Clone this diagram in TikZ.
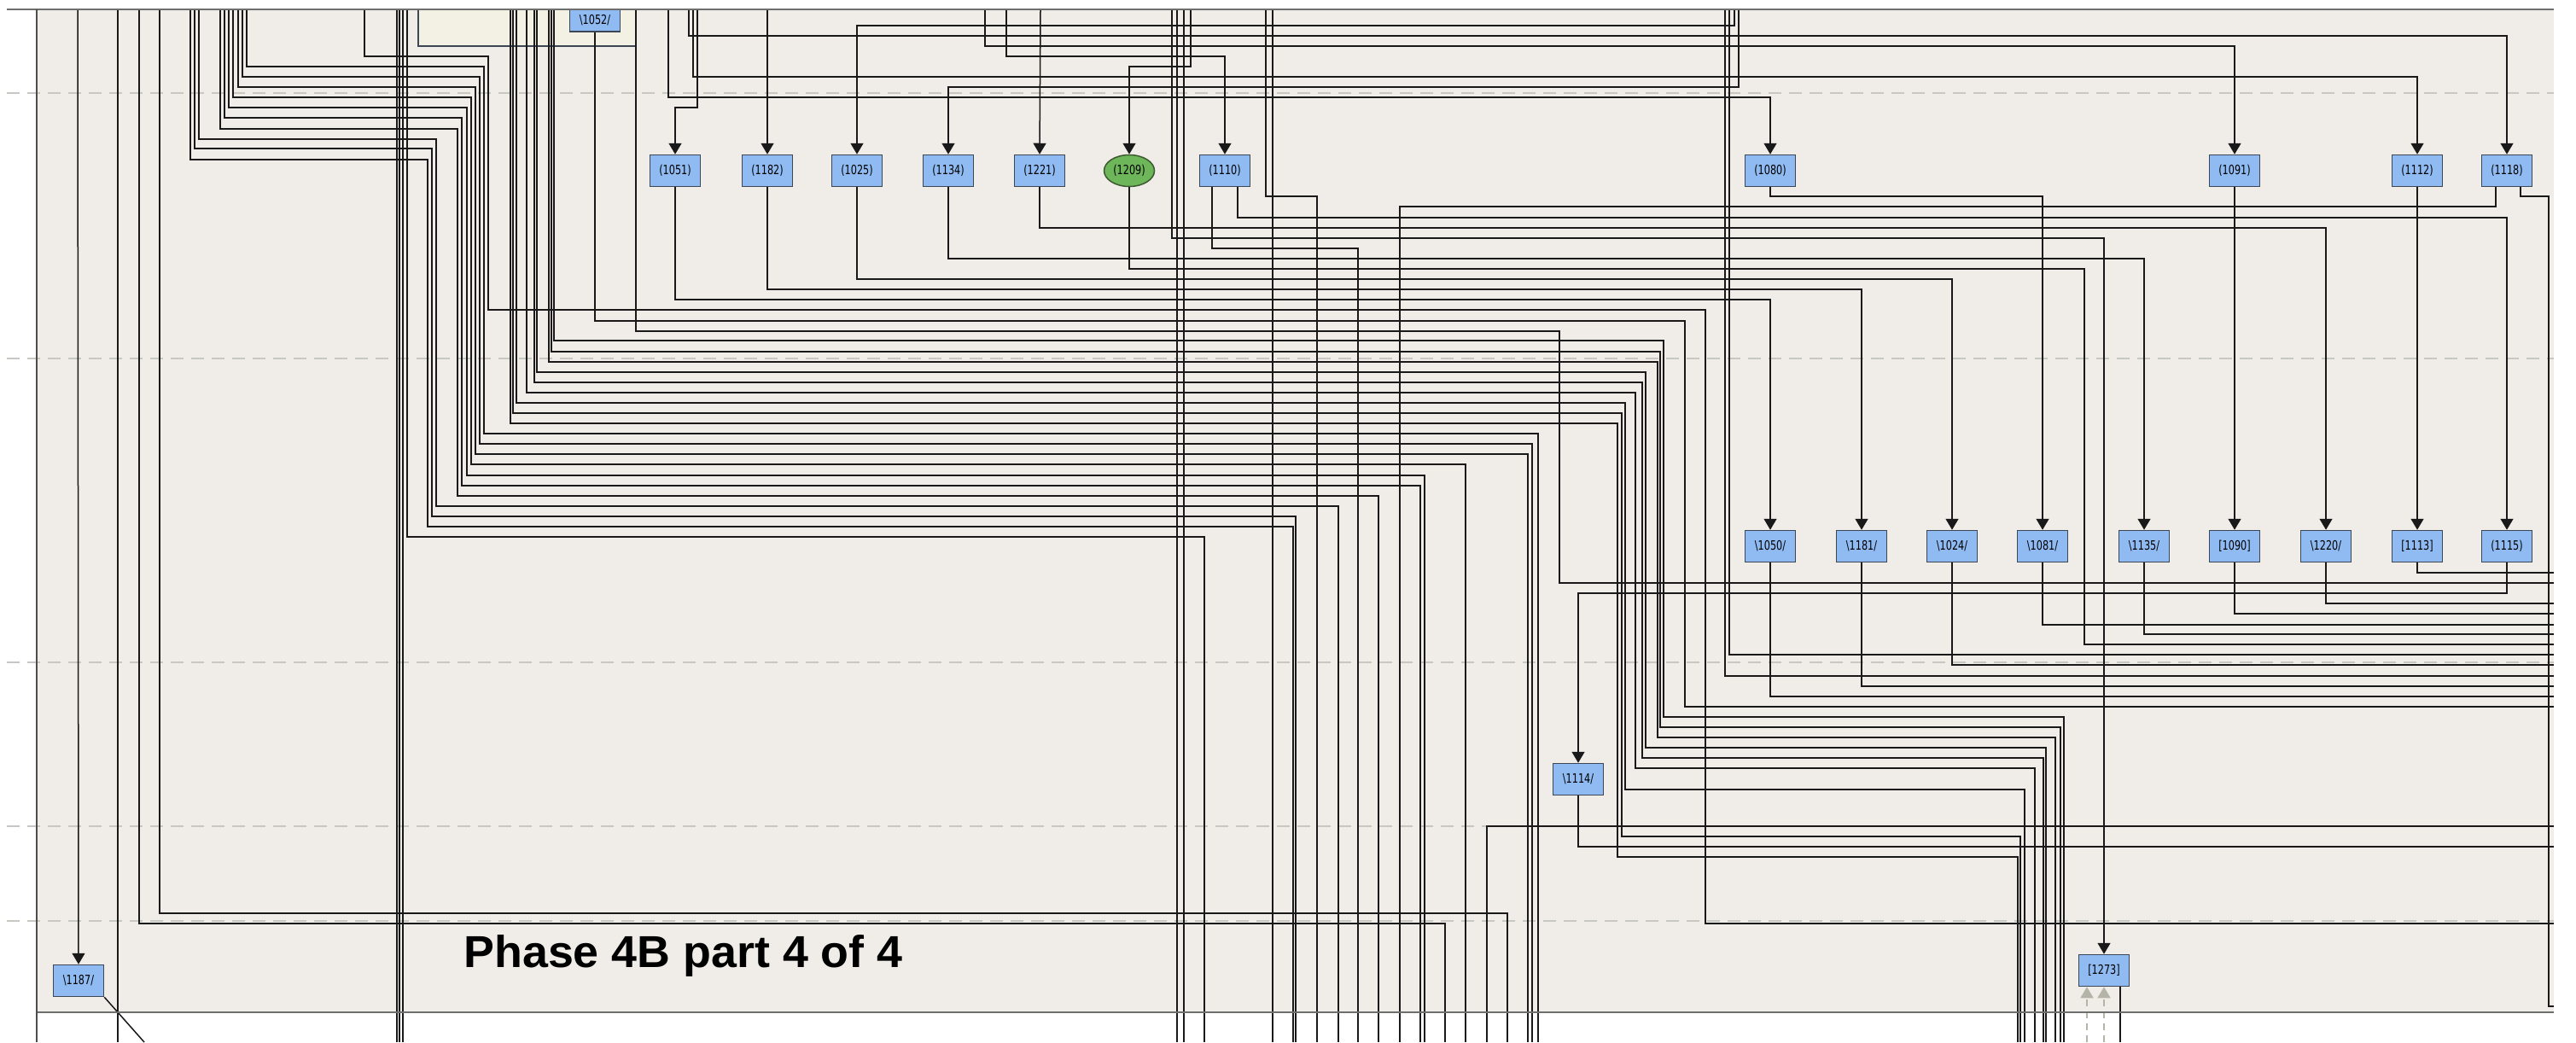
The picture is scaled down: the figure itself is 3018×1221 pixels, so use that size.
\documentclass[tikz,border=0pt]{standalone}
\usepackage{fontspec}
\usepackage{graphicx}
\usetikzlibrary{arrows.meta,shapes.geometric}
\newfontfamily\lblfont[FakeStretch=0.75]{DejaVu Sans}
\newfontfamily\ttlfont{Liberation Sans}
\definecolor{bgbeige}{RGB}{240,236,232}
\definecolor{grpyellow}{RGB}{243,241,228}
\definecolor{nodeblue}{RGB}{143,187,242}
\definecolor{nodeborder}{RGB}{60,70,85}
\definecolor{nodegreen}{RGB}{110,182,90}
\definecolor{greenborder}{RGB}{60,90,50}
\definecolor{edgecol}{RGB}{25,25,25}
\definecolor{dashgray}{RGB}{200,200,194}
\definecolor{bordergray}{RGB}{110,110,110}
\definecolor{ghost}{RGB}{180,180,168}
\tikzset{
  e/.style={draw=edgecol, line width=0.75pt},
  ea/.style={e, -{Triangle[width=7.5pt,length=6.5pt]}},
  ga/.style={draw=ghost, line width=0.75pt, dash pattern=on 4pt off 3pt, -{Triangle[width=7.5pt,length=6.5pt]}},
  nb/.style={rectangle, draw=nodeborder, fill=nodeblue, line width=0.75pt,
    minimum width=29.5pt, minimum height=18.5pt, inner sep=0pt,
    font=\lblfont\fontsize{7.5}{8}\selectfont, text=black},
  ng/.style={ellipse, draw=greenborder, fill=nodegreen, line width=0.75pt,
    minimum width=29.5pt, minimum height=18.5pt, inner sep=0pt,
    font=\lblfont\fontsize{7.5}{8}\selectfont, text=black},
  lane/.style={draw=dashgray, line width=1pt, dash pattern=on 7.5pt off 4.5pt},
  frame/.style={draw=bordergray, line width=1.2pt}
}
\begin{document}
\begin{tikzpicture}[x=0.5pt,y=-0.5pt]
\useasboundingbox (0,0) rectangle (3018,1221);
\fill[white] (0,0) rectangle (3018,1221);
\fill[bgbeige] (43,11) rectangle (2992,1186);
% swimlane separators
\foreach \y in {109,420,776,968,1079} {\draw[lane] (8,\y) -- (2992,\y);}
% group box
\draw[fill=grpyellow, draw=nodeborder, line width=0.6pt] (490,11) rectangle (745,54);

% ---------------- nodes ----------------
\node[nb] (n1052) at (697,24) [minimum height=13pt] {\textbackslash 1052/};
\node[nb] (n1051) at (791,200) {(1051)};
\node[nb] (n1182) at (899,200) {(1182)};
\node[nb] (n1025) at (1004,200) {(1025)};
\node[nb] (n1134) at (1111,200) {(1134)};
\node[nb] (n1221) at (1218,200) {(1221)};
\node[ng] (n1209) at (1323,200) {(1209)};
\node[nb] (n1110) at (1435,200) {(1110)};
\node[nb] (n1080) at (2074,200) {(1080)};
\node[nb] (n1091) at (2618,200) {(1091)};
\node[nb] (n1112) at (2832,200) {(1112)};
\node[nb] (n1118) at (2937,200) {(1118)};

\node[nb] (n1050) at (2074,640) {\textbackslash 1050/};
\node[nb] (n1181) at (2181,640) {\textbackslash 1181/};
\node[nb] (n1024) at (2287,640) {\textbackslash 1024/};
\node[nb] (n1081) at (2393,640) {\textbackslash 1081/};
\node[nb] (n1135) at (2512,640) {\textbackslash 1135/};
\node[nb] (n1090) at (2618,640) {[1090]};
\node[nb] (n1220) at (2725,640) {\textbackslash 1220/};
\node[nb] (n1113) at (2832,640) {[1113]};
\node[nb] (n1115) at (2937,640) {(1115)};

\node[nb] (n1114) at (1849,913) {\textbackslash 1114/};
\node[nb] (n1187) at (92,1149) {\textbackslash 1187/};
\node[nb] (n1273) at (2465,1137) {[1273]};

% ---------------- free ends ----------------
\coordinate (t43) at (43,11);   \coordinate (b43) at (43,1221);
\coordinate (t91) at (91,11);
\coordinate (t163) at (163,11); \coordinate (b1693) at (1693,1221);
\coordinate (t187) at (187,11); \coordinate (b1766) at (1766,1221);
\coordinate (t427) at (427,11); \coordinate (r1082) at (2992,1082);
\coordinate (t477) at (477,11); \coordinate (b1411) at (1411,1221);
\coordinate (r828) at (2992,828);
\coordinate (t745) at (745,11); \coordinate (r683) at (2992,683);
\coordinate (t783) at (783,11);
\coordinate (t807) at (807,11);
\coordinate (t812) at (812,11);
\coordinate (t817) at (817,11);
\coordinate (t899) at (899,11);
\coordinate (t2032) at (2032,11);
\coordinate (t2037) at (2037,11);
\coordinate (t1154) at (1154,11);
\coordinate (t1179) at (1179,11);
\coordinate (t1219) at (1219,11);
\coordinate (t1395) at (1395,11);
\coordinate (t1373) at (1373,11);
\coordinate (t1483) at (1483,11); \coordinate (b1543) at (1543,1221);
\coordinate (t2021) at (2021,11); \coordinate (r792) at (2992,792);
\coordinate (t2026) at (2026,11); \coordinate (r767) at (2992,767);
\coordinate (r755) at (2992,755);
\coordinate (b1591) at (1591,1221);
\coordinate (b1640) at (1640,1221);
\coordinate (r1179) at (2992,1179);
\coordinate (r816) at (2992,816);
\coordinate (r804) at (2992,804);
\coordinate (r779) at (2992,779);
\coordinate (r732) at (2992,732);
\coordinate (r743) at (2992,743);
\coordinate (r719) at (2992,719);
\coordinate (r707) at (2992,707);
\coordinate (r671) at (2992,671);
\coordinate (r992) at (2992,992);
\coordinate (r968) at (2992,968); \coordinate (b1742) at (1742,1221);
\coordinate (bdiag) at (169,1221);
\coordinate (b2484) at (2484,1221);
\coordinate (b2445) at (2445,1221);
\coordinate (b2465) at (2465,1221);

% ---------------- connectors ----------------
\draw[e] (t43) -- (b43);
\draw[ea] (t91) -- (n1187.north);
\foreach \a in {138,465,468,472,1379,1387,1491}
  {\coordinate (t\a) at (\a,11); \coordinate (b\a) at (\a,1221); \draw[e] (t\a) -- (b\a);}
\draw[e] (t163) -- (163,1082) -- (1693,1082) -- (b1693);
\draw[e] (t187) -- (187,1070) -- (1766,1070) -- (b1766);
\foreach \a/\b/\c/\d/\f in {223/187/501/617/1515, 228/174/506/605/1518, 233/163/511/593/1568,
  258/151/536/581/1615, 263/138/541/569/1664, 268/126/547/557/1669, 273/114/552/544/1717,
  279/102/557/532/1790, 284/90/562/520/1795, 289/78/567/508/1802}
  {\coordinate (t\a) at (\a,11); \coordinate (b\f) at (\f,1221);
   \draw[e] (t\a) -- (\a,\b) -- (\c,\b) -- (\c,\d) -- (\f,\d) -- (b\f);}
\draw[e] (t427) -- (427,66) -- (572,66) -- (572,363) -- (1998,363) -- (1998,1082) -- (r1082);
\draw[e] (t477) -- (477,629) -- (1411,629) -- (b1411);
\foreach \a/\b/\c/\d/\f in {598/496/1895/1004/2364, 601/484/1900/980/2367, 605/472/1904/925/2372,
  617/460/1916/900/2384, 626/448/1924/888/2394, 629/436/1928/876/2397,
  643/424/1942/864/2408, 646/412/1945/852/2414, 649/399/1949/840/2418}
  {\coordinate (t\a) at (\a,11); \coordinate (b\f) at (\f,1221);
   \draw[e] (t\a) -- (\a,\b) -- (\c,\b) -- (\c,\d) -- (\f,\d) -- (b\f);}
\draw[e] (n1052.south) -- (697,376) -- (1974,376) -- (1974,828) -- (r828);
\draw[e] (t745) -- (745,388) -- (1827,388) -- (1827,683) -- (r683);
\draw[ea] (t783) -- (783,114) -- (2074,114) -- (n1080.north);
\draw[ea] (t807) -- (807,42) -- (2937,42) -- (n1118.north);
\draw[ea] (t812) -- (812,90) -- (2832,90) -- (n1112.north);
\draw[ea] (t817) -- (817,126) -- (791,126) -- (n1051.north);
\draw[ea] (t899) -- (n1182.north);
\draw[ea] (t2032) -- (2032,30) -- (1004,30) -- (n1025.north);
\draw[ea] (t2037) -- (2037,102) -- (1111,102) -- (n1134.north);
\draw[ea] (t1154) -- (1154,54) -- (2618,54) -- (n1091.north);
\draw[ea] (t1179) -- (1179,66) -- (1435,66) -- (n1110.north);
\draw[ea] (t1219) -- (n1221.north);
\draw[ea] (t1395) -- (1395,78) -- (1323,78) -- (n1209.north);
\draw[ea] (t1373) -- (1373,279) -- (2465,279) -- (n1273.north);
\draw[e] (t1483) -- (1483,230) -- (1543,230) -- (b1543);
\draw[e] (t2021) -- (2021,792) -- (r792);
\draw[e] (t2026) -- (2026,767) -- (r767);

% outputs of first row
\draw[ea] (n1051.south) -- (791,351) -- (2074,351) -- (n1050.north);
\draw[ea] (n1182.south) -- (899,339) -- (2181,339) -- (n1181.north);
\draw[ea] (n1025.south) -- (1004,327) -- (2287,327) -- (n1024.north);
\draw[ea] (n1134.south) -- (1111,303) -- (2512,303) -- (n1135.north);
\draw[ea] (n1221.south) -- (1218,267) -- (2725,267) -- (n1220.north);
\draw[e] (n1209.south) -- (1323,315) -- (2442,315) -- (2442,755) -- (r755);
\draw[e] ([xshift=-7.5pt]n1110.south) -- (1420,291) -- (1591,291) -- (b1591);
\draw[ea] ([xshift=7.5pt]n1110.south) -- (1450,255) -- (2937,255) -- (n1115.north);
\draw[ea] (n1080.south) -- (2074,230) -- (2393,230) -- (n1081.north);
\draw[ea] (n1091.south) -- (n1090.north);
\draw[ea] (n1112.south) -- (n1113.north);
\draw[e] ([xshift=-6.5pt]n1118.south) -- (2924,242) -- (1640,242) -- (b1640);
\draw[e] ([xshift=8pt]n1118.south) -- (2953,230) -- (2986,230) -- (2986,1179) -- (r1179);

% outputs of second row
\draw[e] (n1050.south) -- (2074,816) -- (r816);
\draw[e] (n1181.south) -- (2181,804) -- (r804);
\draw[e] (n1024.south) -- (2287,779) -- (r779);
\draw[e] (n1081.south) -- (2393,732) -- (r732);
\draw[e] (n1135.south) -- (2512,743) -- (r743);
\draw[e] (n1090.south) -- (2618,719) -- (r719);
\draw[e] (n1220.south) -- (2725,707) -- (r707);
\draw[e] (n1113.south) -- (2832,671) -- (r671);
\draw[ea] (n1115.south) -- (2937,695) -- (1849,695) -- (n1114.north);
\draw[e] (n1114.south) -- (1849,992) -- (r992);
\draw[e] (r968) -- (1742,968) -- (b1742);
\draw[e] (n1187.south east) -- (bdiag);
\draw[e] ([xshift=9.5pt]n1273.south) -- (b2484);
\draw[ga] (b2445) -- ([xshift=-10pt]n1273.south);
\draw[ga] (b2465) -- (n1273.south);

% panel frame
\draw[frame] (8,11) -- (2992,11);
\draw[frame] (43,1186) -- (2992,1186);
\draw[draw=bordergray!70!black, line width=1pt] (t43) -- (b43);

% title
\node[anchor=base west, inner sep=0pt] (title) at (543,1133)
  {\resizebox{257pt}{19pt}{\ttlfont\bfseries Phase 4B part 4 of 4}};
\end{tikzpicture}
\end{document}
